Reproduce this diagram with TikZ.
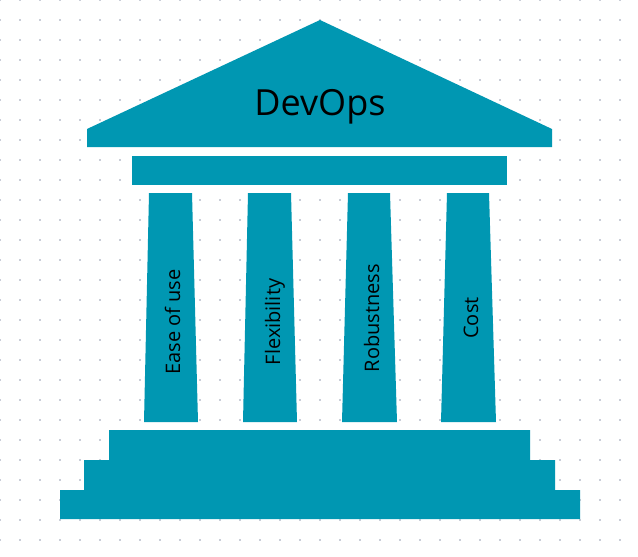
\documentclass[tikz,border=0pt]{standalone}
\usepackage{fontspec}
\setmainfont{Open Sans}
\definecolor{tealc}{HTML}{0097B2}
\definecolor{dotc}{HTML}{C9CDD8}
\begin{document}
\begin{tikzpicture}[x=1pt,y=-1pt,
  part/.style={fill=tealc, draw=none},
  lbl/.style={font=\fontsize{20}{24}\selectfont, text=black, rotate=90, anchor=base, inner sep=0pt},
  title/.style={font=\fontsize{36}{40}\selectfont, text=black, anchor=base, inner sep=0pt}]
\useasboundingbox (0,0) rectangle (638,557);
\fill[white] (0,0) rectangle (638,557);
\foreach \i in {0,...,32}{\foreach \j in {0,...,28}{\fill[dotc] (\i*20-1,\j*20-1) rectangle ++(2,2);}}
% roof
\path[part] (87,147) -- (87,129) -- (320,20) -- (552,129) -- (552,147) -- cycle;
\node[title] (roof) at (320,115) {DevOps};
% beam
\path[part] (132,156) rectangle (507,185);
% pillars
\path[part] (149,193) -- (192,193) -- (198,422) -- (144,422) -- cycle;
\path[part] (248,193) -- (291,193) -- (297,422) -- (243,422) -- cycle;
\path[part] (348,193) -- (390,193) -- (397,422) -- (342,422) -- cycle;
\path[part] (447,193) -- (489,193) -- (496,422) -- (441,422) -- cycle;
\node[lbl] (p1) at (180,322) {Ease of use};
\node[lbl] (p2) at (280,322) {Flexibility};
\node[lbl] (p3) at (379,318) {Robustness};
\node[lbl] (p4) at (478,318) {Cost};
% base
\path[part] (60,519) -- (60,490) -- (84,490) -- (84,460) -- (109,460) -- (109,430) -- (530,430) -- (530,460) -- (555,460) -- (555,490) -- (580,490) -- (580,519) -- cycle;
\end{tikzpicture}
\end{document}
